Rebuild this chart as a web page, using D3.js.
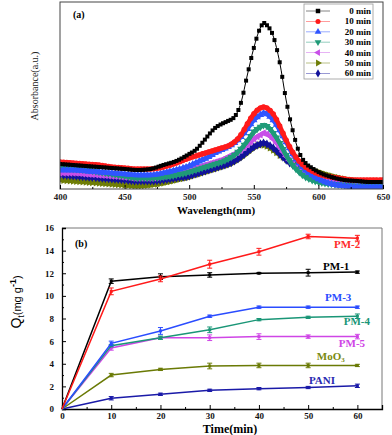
<!DOCTYPE html>
<html><head><meta charset="utf-8">
<script src="https://cdn.jsdelivr.net/npm/d3@7/dist/d3.min.js"></script>
<style>
html,body{margin:0;padding:0;background:#fff;}
svg{display:block;font-family:"Liberation Serif","Times New Roman",serif;}
</style></head>
<body>
<svg id="c" width="392" height="435"></svg>
<script>
// ---------- Panel (a) data ----------
const wavelengths = [400,410,420,430,440,450,460,470,480,490,500,505,510,515,520,525,530,535,540,545,550,555,558,560,565,570,575,580,585,590,595,600,610,620,630,640,650];
const abs0  = [.25,.24,.23,.22,.21,.20,.19,.20,.24,.28,.35,.39,.46,.54,.61,.65,.68,.72,.86,1.14,1.41,1.61,1.66,1.64,1.53,1.27,.89,.59,.37,.26,.21,.17,.12,.09,.08,.07,.07];
const abs10 = [.27,.26,.25,.24,.22,.21,.20,.20,.22,.26,.31,.33,.35,.37,.39,.41,.43,.47,.54,.65,.75,.81,.82,.81,.75,.63,.49,.37,.28,.22,.18,.15,.12,.10,.09,.09,.09];
const abs20 = [.19,.19,.18,.17,.16,.15,.14,.14,.16,.19,.23,.26,.29,.32,.36,.39,.42,.46,.52,.60,.69,.74,.76,.75,.69,.59,.47,.35,.26,.19,.14,.10,.05,.03,.02,.02,.02];
const abs30 = [.21,.20,.19,.17,.15,.13,.11,.11,.12,.14,.17,.19,.21,.23,.25,.27,.30,.34,.40,.48,.57,.62,.64,.63,.56,.46,.34,.24,.17,.12,.09,.07,.05,.04,.03,.03,.03];
const abs40 = [.16,.16,.15,.14,.13,.12,.11,.11,.13,.16,.19,.21,.23,.25,.27,.29,.32,.35,.39,.44,.50,.54,.56,.55,.50,.42,.33,.25,.19,.15,.12,.10,.07,.06,.05,.05,.05];
const abs50 = [.09,.08,.07,.06,.05,.04,.03,.04,.06,.09,.12,.14,.16,.18,.20,.22,.24,.27,.31,.36,.41,.44,.44,.43,.39,.34,.30,.26,.23,.21,.19,.17,.13,.10,.08,.07,.07];
const abs60 = [.14,.13,.12,.11,.10,.09,.08,.08,.09,.11,.13,.15,.17,.19,.21,.23,.25,.28,.32,.37,.42,.45,.46,.45,.41,.35,.29,.24,.20,.17,.14,.12,.09,.07,.06,.06,.06];
const specLabels = ["0 min","10 min","20 min","30 min","40 min","50 min","60 min"];
const wlTicks = [400,450,500,550,600,650];

// ---------- Panel (b) data ----------
const times = [0,10,20,30,40,50,60];
const qPM1 = [0,11.3,11.7,11.85,12.0,12.05,12.1];
const qPM2 = [0,10.4,11.5,12.8,13.9,15.25,15.1];
const qPM3 = [0,5.8,6.9,8.2,9.0,9.0,9.0];
const qPM4 = [0,5.6,6.3,7.0,7.9,8.1,8.2];
const qPM5 = [0,5.4,6.3,6.3,6.4,6.4,6.4];
const qMoO3 = [0,3.0,3.5,3.8,3.85,3.85,3.85];
const qPANI = [0,0.95,1.3,1.65,1.8,1.9,2.05];
const ePM1 = [0,0.2,0.25,0.2,0.05,0.3,0.1];
const ePM2 = [0,0.3,0.25,0.35,0.3,0.2,0.25];
const ePM3 = [0,0.2,0.3,0.1,0.1,0.1,0.1];
const ePM4 = [0,0.1,0.15,0.25,0.1,0.1,0.2];
const ePM5 = [0,0.2,0.1,0.25,0.25,0.15,0.2];
const eMoO3 = [0,0.15,0.1,0.25,0.2,0.2,0.1];
const ePANI = [0,0.15,0.1,0.1,0.1,0.1,0.15];
const sampleNames = ["PM-2","PM-1","PM-3","PM-4","PM-5","MoO3","PANI"];
const timeTicks = [0,10,20,30,40,50,60];
const qTicks = [0,2,4,6,8,10,12,14,16];

const svg = d3.select("#c");

// ================= Panel (a) =================
const xa = d3.scaleLinear().domain([400,650]).range([60,383]);
const ya = d3.scaleLinear().domain([0,1.87]).range([189,2]);

const specSeries = [
  {name:specLabels[0], vals:abs0,  color:"#000000", sym:d3.symbolSquare,   rot:0,   lw:1,   ms:16},
  {name:specLabels[1], vals:abs10, color:"#ff1a1a", sym:d3.symbolCircle,   rot:0,   lw:4.5, ms:24},
  {name:specLabels[2], vals:abs20, color:"#2f55ff", sym:d3.symbolTriangle, rot:0,   lw:4.5, ms:24},
  {name:specLabels[3], vals:abs30, color:"#1f9a78", sym:d3.symbolTriangle, rot:180, lw:4.5, ms:24},
  {name:specLabels[4], vals:abs40, color:"#c84fe8", sym:d3.symbolTriangle, rot:-90, lw:4.5, ms:24},
  {name:specLabels[5], vals:abs50, color:"#6e7d06", sym:d3.symbolTriangle, rot:90,  lw:4.5, ms:24},
  {name:specLabels[6], vals:abs60, color:"#12129a", sym:d3.symbolDiamond,  rot:0,   lw:4.5, ms:24}
];

const gA = svg.append("g");
const clipA = svg.append("clipPath").attr("id","clipA");
clipA.append("rect").attr("x",60).attr("y",2).attr("width",323).attr("height",187);

const lineA = d3.line().x(d=>xa(d[0])).y(d=>ya(d[1])).curve(d3.curveMonotoneX);
const drawOrder = [5,6,4,3,2,1,0];
const plotA = gA.append("g").attr("clip-path","url(#clipA)");
drawOrder.forEach(i=>{
  const s = specSeries[i];
  const pts = wavelengths.map((w,k)=>[w,s.vals[k]]);
  const p = plotA.append("path").datum(pts)
    .attr("d",lineA).attr("fill","none").attr("stroke",s.color)
    .attr("stroke-width",s.lw).attr("stroke-linejoin","round");
  // markers placed along the drawn curve at regular wavelength steps
  const node = p.node();
  const L = node.getTotalLength();
  const poly = [];
  for(let l=0;l<=L;l+=0.4){ poly.push(node.getPointAtLength(l)); }
  const step = (i===0) ? 2.0 : 2.5;
  const sym = d3.symbol().type(s.sym).size(s.ms);
  let j=0;
  for(let w=400; w<=650; w+=step){
    const tx = xa(w);
    while(j<poly.length-1 && poly[j].x < tx) j++;
    const pt = poly[j];
    plotA.append("path").attr("d",sym())
      .attr("transform",`translate(${pt.x},${pt.y}) rotate(${s.rot})`)
      .attr("fill",s.color);
  }
});

// frame
gA.append("rect").attr("x",60).attr("y",2).attr("width",323).attr("height",187)
  .attr("fill","none").attr("stroke","#444").attr("stroke-width",1);
// x axis ticks (inward)
const axA = gA.append("g").attr("transform","translate(0,189)")
  .call(d3.axisBottom(xa).tickValues(wlTicks).tickSize(-4).tickFormat(d3.format("d")).tickPadding(5));
axA.select(".domain").remove();
axA.selectAll("text").attr("font-size",9).attr("font-weight","bold").attr("fill","#222")
  .attr("font-family","'Liberation Serif',serif");
gA.append("g").attr("transform","translate(0,189)")
  .call(d3.axisBottom(xa).tickValues([425,475,525,575,625]).tickSize(-2).tickFormat(""))
  .select(".domain").remove();
gA.append("text").attr("x",216).attr("y",214).attr("text-anchor","middle")
  .attr("font-size",11).attr("font-weight","bold").text("Wavelength(nm)");
gA.append("text").attr("transform","translate(38,86) rotate(-90)").attr("text-anchor","middle")
  .attr("font-size",10).attr("fill","#222").text("Absorbance(a.u.)");
gA.append("text").attr("x",73).attr("y",18).attr("font-size",10).attr("font-weight","bold").text("(a)");

// legend
const lg = gA.append("g");
lg.append("rect").attr("x",304).attr("y",4).attr("width",69).attr("height",75)
  .attr("fill","#fff").attr("stroke","#999").attr("stroke-width",0.8);
specSeries.forEach((s,i)=>{
  const yy = 11 + i*10.4;
  lg.append("line").attr("x1",306).attr("x2",330).attr("y1",yy).attr("y2",yy)
    .attr("stroke",s.color).attr("stroke-width",0.8).attr("opacity",0.6);
  lg.append("path").attr("d",d3.symbol().type(s.sym).size(20)())
    .attr("transform",`translate(318,${yy}) rotate(${s.rot})`).attr("fill",s.color);
  lg.append("text").attr("x",371).attr("y",yy+3).attr("text-anchor","end")
    .attr("font-size",9).attr("font-weight","bold").text(s.name);
});

// ================= Panel (b) =================
const xb = d3.scaleLinear().domain([0,65]).range([62,382]);
const yb = d3.scaleLinear().domain([0,16]).range([409,228]);
const gB = svg.append("g");

const samples = [
  {name:sampleNames[0], q:qPM2, e:ePM2, color:"#ff1a1a", lc:"#ff2a2a", lx:57.9, ly:14.25},
  {name:sampleNames[1], q:qPM1, e:ePM1, color:"#000000", lc:"#000000", lx:55.7, ly:12.3},
  {name:sampleNames[2], q:qPM3, e:ePM3, color:"#2a4cff", lc:"#2a4cff", lx:56.1, ly:9.55},
  {name:sampleNames[3], q:qPM4, e:ePM4, color:"#1a9677", lc:"#1a9677", lx:59.9, ly:7.4},
  {name:sampleNames[4], q:qPM5, e:ePM5, color:"#cf45e6", lc:"#cf45e6", lx:58.9, ly:5.5},
  {name:sampleNames[5], q:qMoO3, e:eMoO3, color:"#6a7a05", lc:"#7a8a10", lx:54.6, ly:4.3},
  {name:sampleNames[6], q:qPANI, e:ePANI, color:"#1a1aa8", lc:"#2a2ab0", lx:52.8, ly:2.2}
];

// frame top/right
gB.append("line").attr("x1",62).attr("x2",382).attr("y1",228).attr("y2",228).attr("stroke","#777");
gB.append("line").attr("x1",382).attr("x2",382).attr("y1",228).attr("y2",409).attr("stroke","#777");

const axXb = gB.append("g").attr("transform","translate(0,409)")
  .call(d3.axisBottom(xb).tickValues(timeTicks).tickSize(-4).tickPadding(4).tickFormat(d3.format("d")));
axXb.select(".domain").attr("stroke","#000").attr("stroke-width",1.3);
axXb.selectAll("text").attr("font-size",9).attr("font-weight","bold").attr("fill","#111")
  .attr("font-family","'Liberation Serif',serif");
gB.append("g").attr("transform","translate(0,409)")
  .call(d3.axisBottom(xb).tickValues([5,15,25,35,45,55,65]).tickSize(-2).tickFormat(""))
  .select(".domain").remove();
const axYb = gB.append("g").attr("transform","translate(62,0)")
  .call(d3.axisLeft(yb).tickValues(qTicks).tickSize(-4).tickPadding(8).tickFormat(d3.format("d")));
axYb.select(".domain").attr("stroke","#000").attr("stroke-width",1.3);
axYb.selectAll("text").attr("font-size",9).attr("font-weight","bold").attr("fill","#111")
  .attr("font-family","'Liberation Serif',serif");
gB.append("g").attr("transform","translate(62,0)")
  .call(d3.axisLeft(yb).tickValues([1,3,5,7,9,11,13,15]).tickSize(-2).tickFormat(""))
  .select(".domain").remove();

const lineB = d3.line().x((d,i)=>xb(times[i])).y(d=>yb(d));
samples.slice().reverse().forEach(s=>{
  gB.append("path").datum(s.q).attr("d",lineB).attr("fill","none")
    .attr("stroke",s.color).attr("stroke-width",1.5);
  times.forEach((t,i)=>{
    if(i===0) return;
    const x = xb(t), y1 = yb(s.q[i]-s.e[i]), y2 = yb(s.q[i]+s.e[i]);
    gB.append("line").attr("x1",x).attr("x2",x).attr("y1",y1).attr("y2",y2).attr("stroke",s.color).attr("stroke-width",1);
    [y1,y2].forEach(yy=>gB.append("line").attr("x1",x-2.5).attr("x2",x+2.5).attr("y1",yy).attr("y2",yy).attr("stroke",s.color).attr("stroke-width",1));
    gB.append("rect").attr("x",x-1.5).attr("y",yb(s.q[i])-1.5).attr("width",3).attr("height",3).attr("fill",s.color);
  });
});
samples.forEach(s=>{
  const t = gB.append("text").attr("x",xb(s.lx)).attr("y",yb(s.ly)).attr("text-anchor","middle")
    .attr("font-size",11).attr("font-weight","bold").attr("fill",s.lc);
  if(s.name==="MoO3"){
    t.text("MoO");
    t.append("tspan").attr("font-size",7).attr("dy",2).text("3");
  } else t.text(s.name);
});
gB.append("text").attr("x",230).attr("y",433).attr("text-anchor","middle")
  .attr("font-size",12).attr("font-weight","bold").text("Time(min)");
gB.append("text").attr("x",75).attr("y",247).attr("font-size",10).attr("font-weight","bold").text("(b)");
const yl = gB.append("text").attr("transform","translate(21,302) rotate(-90)").attr("text-anchor","middle")
  .attr("font-family","'Liberation Sans',Arial,sans-serif");
yl.append("tspan").attr("font-size",14).text("Q");
yl.append("tspan").attr("font-size",9).attr("dy",3).text("t");
yl.append("tspan").attr("font-size",11).attr("dy",-3).text("(mg g");
yl.append("tspan").attr("font-size",9).attr("dy",-5).attr("font-weight","bold").text("-1");
yl.append("tspan").attr("font-size",11).attr("dy",5).text(")");
</script>
</body></html>
